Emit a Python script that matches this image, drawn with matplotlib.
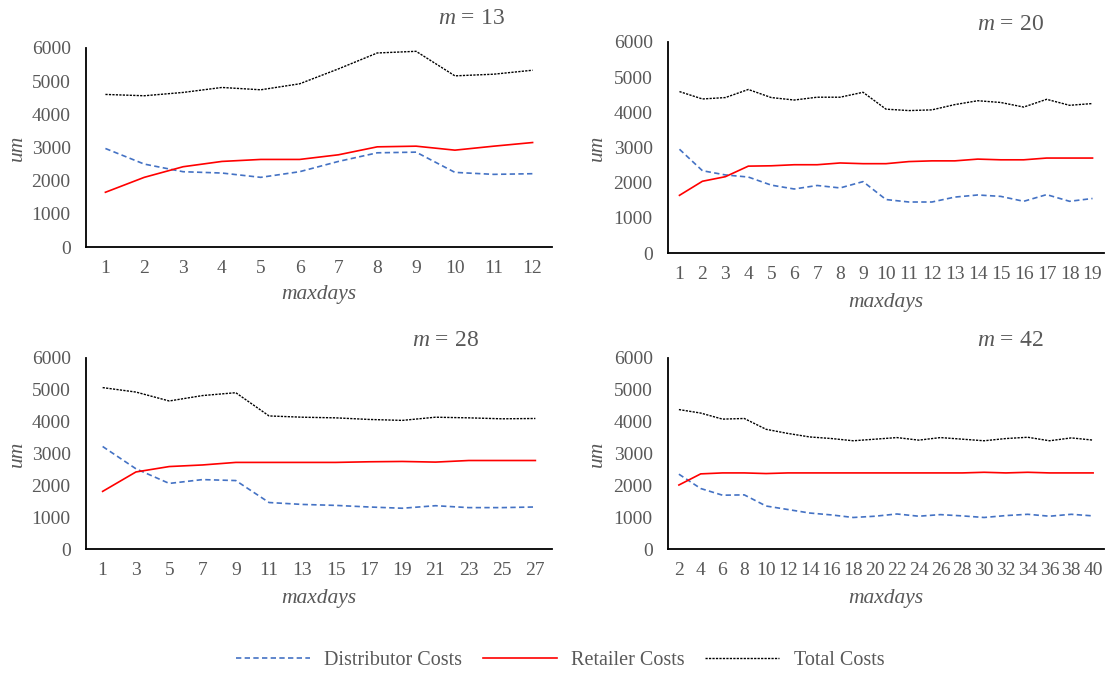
import matplotlib
matplotlib.use("Agg")
import matplotlib.pyplot as plt
from matplotlib.lines import Line2D

plt.rcParams['font.family'] = ['Liberation Serif', 'DejaVu Serif']
plt.rcParams['mathtext.fontset'] = 'custom'
plt.rcParams['mathtext.it'] = 'Liberation Serif:italic'
plt.rcParams['mathtext.rm'] = 'Liberation Serif'

# ---------------- data ----------------
days13 = list(range(1, 13))
dist13 = [2970, 2500, 2270, 2230, 2100, 2270, 2580, 2840, 2860, 2250, 2190, 2210]
ret13 = [1650, 2100, 2420, 2580, 2640, 2640, 2780, 3020, 3040, 2920, 3040, 3150]
tot13 = [4600, 4560, 4660, 4810, 4740, 4920, 5370, 5850, 5900, 5160, 5210, 5330]

days20 = list(range(1, 20))
dist20 = [2950, 2340, 2220, 2160, 1930, 1820, 1920, 1850, 2030, 1520, 1450, 1450,
          1590, 1650, 1610, 1470, 1660, 1470, 1550]
ret20 = [1640, 2040, 2170, 2470, 2480, 2510, 2510, 2560, 2540, 2540, 2600, 2620,
         2620, 2670, 2650, 2650, 2700, 2700, 2700]
tot20 = [4590, 4380, 4420, 4650, 4420, 4350, 4430, 4430, 4570, 4090, 4050, 4070,
         4220, 4330, 4280, 4150, 4370, 4200, 4250]

days28 = list(range(1, 28, 2))
dist28 = [3220, 2520, 2060, 2180, 2150, 1460, 1400, 1370, 1320, 1280, 1360, 1300, 1300, 1320]
ret28 = [1810, 2420, 2590, 2640, 2720, 2720, 2720, 2720, 2740, 2750, 2730, 2780, 2780, 2780]
tot28 = [5070, 4930, 4650, 4820, 4910, 4180, 4140, 4120, 4070, 4040, 4140, 4120, 4090, 4100]

days42 = list(range(2, 41, 2))
dist42 = [2350, 1900, 1690, 1700, 1350, 1240, 1130, 1070, 990, 1030, 1100, 1030,
          1080, 1040, 990, 1050, 1090, 1030, 1090, 1040]
ret42 = [2010, 2360, 2390, 2390, 2370, 2390, 2390, 2390, 2390, 2390, 2390, 2390,
         2390, 2390, 2410, 2390, 2410, 2390, 2390, 2390]
tot42 = [4380, 4270, 4080, 4100, 3760, 3630, 3520, 3470, 3400, 3450, 3500, 3420,
         3500, 3450, 3400, 3470, 3510, 3400, 3490, 3420]

titles = ["13", "20", "28", "42"]
series_names = ["Distributor Costs", "Retailer Costs", "Total Costs"]
yticks = [0, 1000, 2000, 3000, 4000, 5000, 6000]

# ---------------- style ----------------
W, H = 1113, 673
TXT = '#595959'
BLUE = '#4472C4'
RED = '#FF0000'
BLACK = '#000000'
styles = [
    dict(color=BLUE, lw=1.2, dashes=(3.2, 2.0)),
    dict(color=RED, lw=1.2, linestyle='-'),
    dict(color=BLACK, lw=1.0, dashes=(1.6, 0.9)),
]

fig = plt.figure(figsize=(W / 100, H / 100), dpi=100)

# (left, right, top, bottom) in pixels
boxes = [(86, 552, 48, 247), (668, 1104, 42, 253), (86, 552, 358, 549), (668, 1104, 358, 549)]
title_pos = [(471, 19), (1010, 25), (445, 341), (1010, 341)]
xlabel_y = [295, 303, 599, 599]
ylabel_x = [17, 597, 17, 597]

panels = [
    (days13, dist13, ret13, tot13),
    (days20, dist20, ret20, tot20),
    (days28, dist28, ret28, tot28),
    (days42, dist42, ret42, tot42),
]

for i, (days, d, r, t) in enumerate(panels):
    l, rr, tp, bt = boxes[i]
    ax = fig.add_axes([l / W, 1 - bt / H, (rr - l) / W, (bt - tp) / H])
    xs = list(range(len(days)))
    for vals, st in zip((d, r, t), styles):
        ax.plot(xs, vals, **st)
    ax.set_xlim(-0.5, len(days) - 0.5)
    ax.set_ylim(0, 6000)
    ax.set_yticks(yticks)
    ax.set_yticklabels([str(v) for v in yticks])
    ax.set_xticks(xs)
    ax.set_xticklabels([str(v) for v in days])
    for s in ['top', 'right']:
        ax.spines[s].set_visible(False)
    for s in ['left', 'bottom']:
        ax.spines[s].set_color('black')
        ax.spines[s].set_linewidth(1.3)
    ax.tick_params(axis='both', length=0, colors=TXT, labelsize=14)
    ax.tick_params(axis='x', pad=9.5)
    ax.tick_params(axis='y', pad=11)
    ax.patch.set_alpha(0)
    cx = (l + rr) / 2
    fig.text(cx / W, 1 - xlabel_y[i] / H, 'maxdays', style='italic', fontsize=15.5,
             color=TXT, ha='center', va='center')
    fig.text(ylabel_x[i] / W, 1 - ((tp + bt) / 2) / H, 'um', style='italic', fontsize=15.5,
             color=TXT, ha='center', va='center', rotation=90)
    tx, ty = title_pos[i]
    fig.text(tx / W, 1 - ty / H, r'$m$ = ' + titles[i], fontsize=17, color=TXT,
             ha='center', va='center')

handles = [Line2D([], [], **st) for st in styles]
leg = fig.legend(handles, series_names, loc='center', bbox_to_anchor=(560 / W, 1 - 660 / H),
                 ncol=3, frameon=False, fontsize=14.5, handlelength=3.7, handletextpad=0.7,
                 columnspacing=1.0, borderpad=0)
for txt in leg.get_texts():
    txt.set_color(TXT)

fig.savefig('out.png', dpi=100)
